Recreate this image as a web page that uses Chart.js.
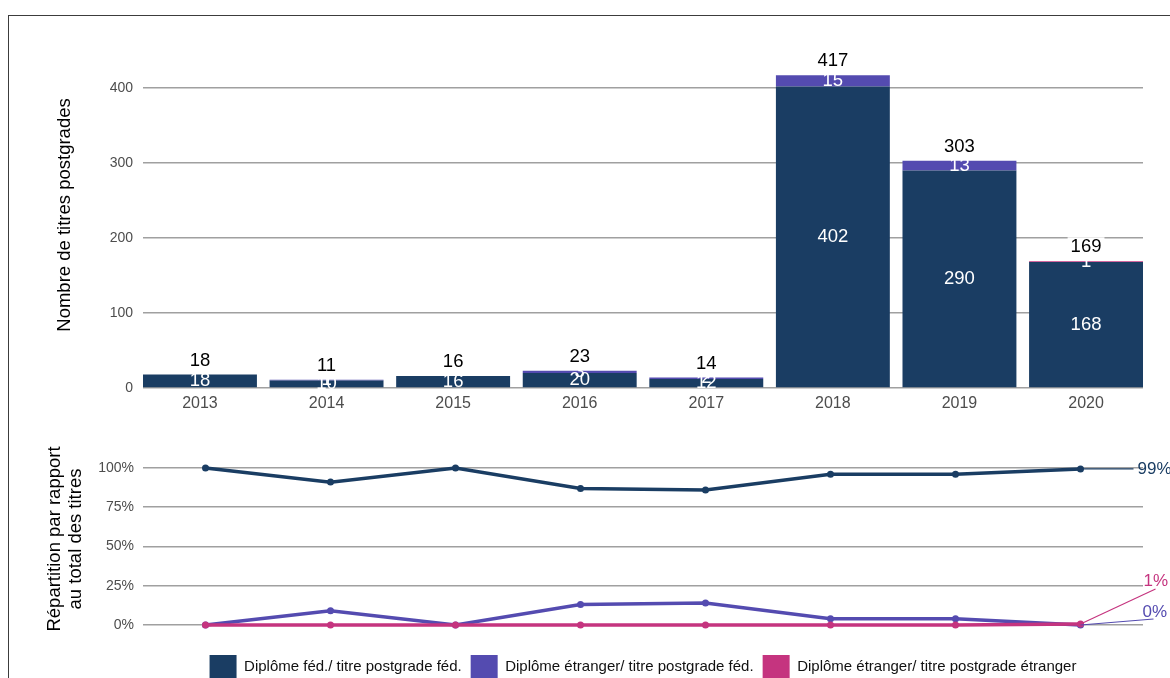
<!DOCTYPE html>
<html>
<head>
<meta charset="utf-8">
<script src="https://cdn.jsdelivr.net/npm/chart.js@4/dist/chart.umd.min.js"></script>
<style>
    body { margin: 0; background: #fff; overflow: hidden; width: 1170px; height: 678px; position: relative; }
    #cadre { position: absolute; left: 8px; top: 15px; width: 1300px; height: 800px; border-top: 1px solid #3c3c3c; border-left: 1px solid #3c3c3c; }
    #grafBarres { position: absolute; left: 0; top: 0; }
    #grafLignes { position: absolute; left: 0; top: 431px; }
</style>
</head>
<body>
<div id="cadre"></div>
<canvas id="grafBarres" width="1170" height="430"></canvas>
<canvas id="grafLignes" width="1170" height="258"></canvas>
<script>
var annees = ["2013", "2014", "2015", "2016", "2017", "2018", "2019", "2020"];
// nombre de titres
var fedFed = [18, 10, 16, 20, 12, 402, 290, 168];
var etrFed = [0, 1, 0, 3, 2, 15, 13, 0];
var etrEtr = [0, 0, 0, 0, 0, 0, 0, 1];
// part en % du total
var partFedFed = [100, 91, 100, 87, 86, 96, 96, 99.4];
var partEtrFed = [0, 9, 0, 13, 14, 4, 4, 0];
var partEtrEtr = [0, 0, 0, 0, 0, 0, 0, 0.6];
var ticksNombre = [0, 100, 200, 300, 400];
var ticksPart = [0, 25, 50, 75, 100];
var nomsSeries = ["Diplôme féd./ titre postgrade féd.", "Diplôme étranger/ titre postgrade féd.", "Diplôme étranger/ titre postgrade étranger"];

var couleurs = ["#1a3d63", "#544bb0", "#c5347f"];
var police = '"Liberation Sans", Arial, sans-serif';

window.onload = function () {
    init();
};

function init() {
    Chart.defaults.font.family = police;
    Chart.defaults.devicePixelRatio = 1;
    carregarBarres();
    carregarLignes();
}

function enPoints(serie) {
    var res = [];
    for (var i = 0; i < serie.length; i++) {
        res.push({x: i + 1, y: serie[i]});
    }
    return res;
}

var etiquettesBarres = {
    id: 'etiquettesBarres',
    afterDatasetsDraw: function (chart) {
        var ctx = chart.ctx;
        var y = chart.scales.y;
        ctx.save();
        ctx.font = '18.5px ' + police;
        ctx.textAlign = 'center';
        ctx.textBaseline = 'middle';
        chart.data.datasets.forEach(function (ds, i) {
            var meta = chart.getDatasetMeta(i);
            meta.data.forEach(function (bar, j) {
                var v = ds.data[j].y;
                if (!v) return;
                ctx.fillStyle = '#fff';
                ctx.fillText(v, bar.x, (bar.y + bar.base) / 2);
            });
        });
        var meta0 = chart.getDatasetMeta(0);
        for (var j = 0; j < annees.length; j++) {
            var total = fedFed[j] + etrFed[j] + etrEtr[j];
            var px = meta0.data[j].x;
            var py = y.getPixelForValue(total) - 14;
            var w = ctx.measureText(total).width;
            ctx.fillStyle = '#fff';
            ctx.fillRect(px - w / 2 - 3, py - 10, w + 6, 20);
            ctx.fillStyle = '#000';
            ctx.fillText(total, px, py);
        }
        ctx.restore();
    }
};

var etiquettesFin = {
    id: 'etiquettesFin',
    afterDatasetsDraw: function (chart) {
        var ctx = chart.ctx;
        var decalages = [
            {lx: 53, ly: 0, tx: 57, ty: 0},
            {lx: 73, ly: -6, tx: 62, ty: -13},
            {lx: 75, ly: -35, tx: 63, ty: -43}
        ];
        ctx.save();
        ctx.font = '17px ' + police;
        ctx.textAlign = 'left';
        ctx.textBaseline = 'middle';
        chart.data.datasets.forEach(function (ds, i) {
            var meta = chart.getDatasetMeta(i);
            var pt = meta.data[meta.data.length - 1];
            var d = decalages[i];
            ctx.strokeStyle = ds.borderColor;
            ctx.lineWidth = 1.2;
            ctx.beginPath();
            ctx.moveTo(pt.x, pt.y);
            ctx.lineTo(pt.x + d.lx, pt.y + d.ly);
            ctx.stroke();
            ctx.fillStyle = ds.borderColor;
            ctx.fillText(Math.round(ds.data[ds.data.length - 1]) + '%', pt.x + d.tx, pt.y + d.ty);
        });
        ctx.restore();
    }
};

function carregarBarres() {
    var ctx = document.getElementById("grafBarres");
    var series = [fedFed, etrFed, etrEtr];
    var datasets = [];
    for (var i = 0; i < series.length; i++) {
        datasets.push({
            label: nomsSeries[i],
            data: enPoints(series[i]),
            backgroundColor: couleurs[i],
            borderWidth: 0,
            categoryPercentage: 1,
            barPercentage: 0.9
        });
    }
    new Chart(ctx, {
        type: 'bar',
        data: {datasets: datasets},
        plugins: [etiquettesBarres],
        options: {
            responsive: false,
            animation: false,
            layout: {padding: {top: 42, right: 27, left: 0, bottom: 0}},
            plugins: {legend: {display: false}, tooltip: {enabled: false}},
            scales: {
                x: {
                    type: 'linear',
                    stacked: true,
                    offset: false,
                    min: 0.55,
                    max: 8.45,
                    afterBuildTicks: function (s) {
                        s.ticks = annees.map(function (a, i) { return {value: i + 1}; });
                    },
                    afterFit: function (s) { s.height = 42; },
                    grid: {display: false, drawTicks: false},
                    border: {display: false},
                    ticks: {
                        padding: 6, color: '#4d4d4d', font: {size: 16}, maxRotation: 0, autoSkip: false,
                        callback: function (v) { return annees[Math.round(v) - 1]; }
                    }
                },
                y: {
                    stacked: true,
                    min: 0,
                    max: 461.3,
                    afterBuildTicks: function (s) {
                        s.ticks = ticksNombre.map(function (v) { return {value: v}; });
                    },
                    afterFit: function (s) { s.width = 143; },
                    grid: {color: '#a0a0a0', lineWidth: 1.6, drawTicks: false},
                    border: {display: false},
                    ticks: {padding: 10, color: '#4d4d4d', font: {size: 14}},
                    title: {display: true, text: 'Nombre de titres postgrades', color: '#000', font: {size: 18.5, lineHeight: 1.1}, padding: {top: 55, bottom: 0}}
                }
            }
        }
    });
}

function carregarLignes() {
    var ctx = document.getElementById("grafLignes");
    var series = [partFedFed, partEtrFed, partEtrEtr];
    var ordres = [2, 1, 0];
    var datasets = [];
    for (var i = 0; i < series.length; i++) {
        datasets.push({
            label: nomsSeries[i],
            data: series[i],
            borderColor: couleurs[i],
            backgroundColor: couleurs[i],
            pointBackgroundColor: couleurs[i],
            borderWidth: 3.5,
            pointRadius: 3.5,
            pointBorderWidth: 0,
            tension: 0,
            clip: false,
            order: ordres[i]
        });
    }
    new Chart(ctx, {
        type: 'line',
        data: {labels: annees, datasets: datasets},
        plugins: [etiquettesFin],
        options: {
            responsive: false,
            animation: false,
            layout: {padding: {top: 22, right: 27, left: 0, bottom: 0}},
            plugins: {
                tooltip: {enabled: false},
                legend: {
                    position: 'bottom',
                    fullSize: false,
                    labels: {
                        boxWidth: 27,
                        boxHeight: 24,
                        padding: 9,
                        color: '#111',
                        font: {size: 15},
                        sort: function (a, b) { return a.datasetIndex - b.datasetIndex; },
                        generateLabels: function (chart) {
                            var items = Chart.defaults.plugins.legend.labels.generateLabels(chart);
                            items.forEach(function (it) { it.lineWidth = 0; it.fillStyle = couleurs[it.datasetIndex]; });
                            return items;
                        }
                    }
                }
            },
            scales: {
                x: {
                    offset: true,
                    afterFit: function (s) { s.height = 21; },
                    grid: {display: false, drawTicks: false},
                    border: {display: false},
                    ticks: {display: false}
                },
                y: {
                    min: 0,
                    max: 109.55,
                    afterBuildTicks: function (s) {
                        s.ticks = ticksPart.map(function (v) { return {value: v}; });
                    },
                    afterFit: function (s) { s.width = 143; },
                    grid: {color: '#a0a0a0', lineWidth: 1.6, drawTicks: false},
                    border: {display: false},
                    ticks: {padding: 9, color: '#4d4d4d', font: {size: 14}, callback: function (v) { return v + '%'; }},
                    title: {display: true, text: ['Répartition par rapport', 'au total des titres'], color: '#000', font: {size: 18.5, lineHeight: 1.1}, padding: {top: 45, bottom: 0}}
                }
            }
        }
    });
}
</script>
</body>
</html>
